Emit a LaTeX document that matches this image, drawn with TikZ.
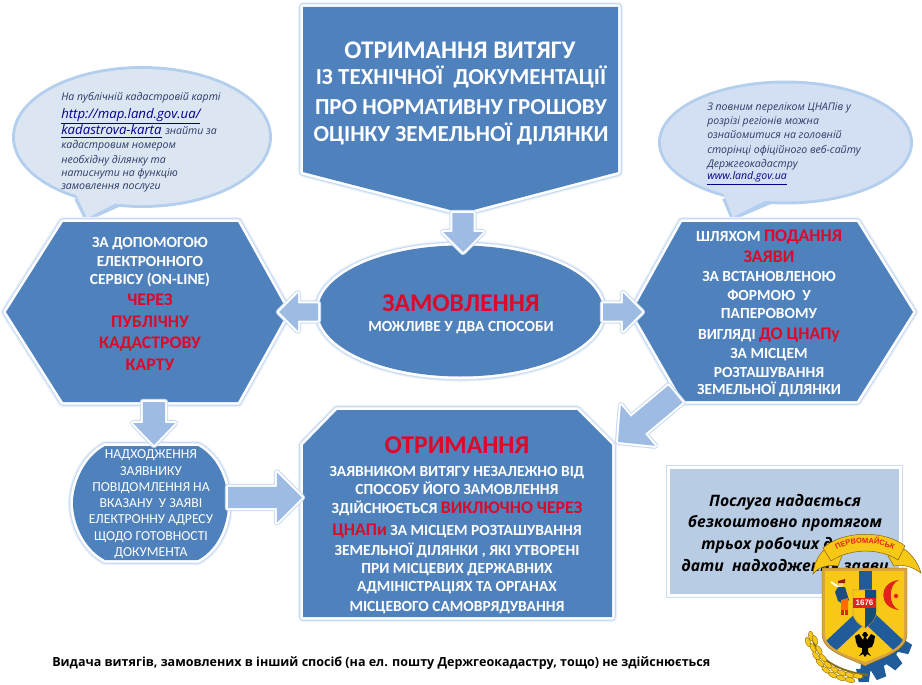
\documentclass[tikz,border=0pt]{standalone}
\usepackage{fontspec}
\setmainfont{Carlito}
\newfontfamily\tah{Open Sans}
\newfontfamily\arl{Liberation Sans}
\usetikzlibrary{calc,shapes.geometric,decorations.text}
\definecolor{mainblue}{HTML}{4F81BD}
\definecolor{glowa}{HTML}{EAF1FA}
\definecolor{glowb}{HTML}{C9DCF3}
\definecolor{arrowfill}{HTML}{9DBBE3}
\definecolor{bubfill}{HTML}{DCE6F2}
\definecolor{bubfillb}{HTML}{D3E0F3}
\definecolor{bubedge}{HTML}{B4CFEE}
\definecolor{svcfill}{HTML}{B8CCE4}
\definecolor{redtxt}{HTML}{DB0A28}
\definecolor{navytxt}{HTML}{2B3A66}
\definecolor{linktxt}{HTML}{00008B}
\definecolor{goldrim}{HTML}{D9A441}
\definecolor{shieldy}{HTML}{F7C815}
\definecolor{crestblue}{HTML}{1F5C99}
\definecolor{crestred}{HTML}{E2231A}
\definecolor{darkgold}{HTML}{8A6A10}
\newcommand{\redsize}{\fontsize{13.3}{15}\selectfont}
\tikzset{
  x=.75pt,y=-.75pt,
  glowshape/.style={preaction={draw=glowa,line width=7.6pt,line join=round},
    preaction={draw=glowb,line width=5.8pt,line join=round},
    preaction={draw=white,line width=4pt,line join=round},fill=mainblue},
  blockarrow/.style={preaction={draw=glowb,line width=4.6pt,line join=round},
    preaction={draw=white,line width=3pt,line join=round},fill=arrowfill},
  bubline/.style={draw=bubedge,line width=4.4pt,line join=round},
  wt/.style={anchor=base,inner sep=0pt,text=white,font=\bfseries\fontsize{11.6}{13}\selectfont},
  rd/.style={anchor=base,inner sep=0pt,text=redtxt,font=\bfseries\redsize},
  tt/.style={anchor=base,inner sep=0pt,text=white,font=\bfseries\fontsize{17.2}{20}\selectfont},
  bg/.style={anchor=base,inner sep=0pt,text=redtxt,font=\bfseries\fontsize{19.2}{22}\selectfont},
  pl/.style={anchor=base,inner sep=0pt,text=white,font=\fontsize{10.3}{12}\selectfont},
  bb/.style={anchor=base west,inner sep=0pt,text=navytxt,font=\tah\itshape\fontsize{7.9}{9}\selectfont},
  lk/.style={anchor=base west,inner sep=0pt,text=linktxt,font=\tah\itshape\fontsize{9.9}{11}\selectfont},
  sv/.style={anchor=base,inner sep=0pt,text=black,font=\tah\bfseries\itshape\fontsize{11.8}{14}\selectfont},
  kern/.style={fill=shieldy,draw=darkgold,line width=.3pt},
}
\newcommand{\blockarr}[5]{%
  \coordinate (hb) at ($(#2)!#5!(#1)$);
  \path[blockarrow] ($(#1)!#3!90:(#2)$) -- ($(hb)!#3!90:(#2)$) -- ($(hb)!#4!90:(#2)$) -- (#2)
     -- ($(hb)!#4!-90:(#2)$) -- ($(hb)!#3!-90:(#2)$) -- ($(#1)!#3!-90:(#2)$) -- cycle;}
\begin{document}
\begin{tikzpicture}
\useasboundingbox (0,0) rectangle (922,685);
\fill[white] (0,0) rectangle (922,685);
% bubbles
\coordinate (lbub) at (142,137);
\coordinate (rbub) at (785.5,142.5);
\draw[bubline] (lbub) ellipse [x radius=95.25pt,y radius=51pt];
\draw[bubline] (77,198) -- (87,218) -- (123,202);
\fill[bubfill] (lbub) ellipse [x radius=95.25pt,y radius=51pt];
\fill[bubfill] (74,190) -- (87,218) -- (126,198) -- cycle;
\draw[bubline] (rbub) ellipse [x radius=93.4pt,y radius=44.25pt];
\draw[bubline] (725,198) -- (733,217) -- (773,200);
\fill[bubfillb] (rbub) ellipse [x radius=93.4pt,y radius=44.25pt];
\fill[bubfillb] (722,190) -- (733,217) -- (776,195) -- cycle;
% main shapes
\path[glowshape] (303,7) -- (618,7) -- (618,172) -- (462,213) -- (303,172) -- cycle;
\path[glowshape] (63,222) -- (238,222) -- (288,312) -- (238,402) -- (63,402) -- (6,312) -- cycle;
\path[glowshape] (682,222) -- (857,222) -- (913,312) -- (857,401) -- (683,401) -- (632,312) -- cycle;
\path[glowshape] (337,410) -- (577,410) -- (612,445) -- (612,617) -- (303,617) -- (303,445) -- cycle;
\path[glowshape] (105,446) -- (198,446) .. controls (220,458) and (228,485) .. (228,503)
   .. controls (228,522) and (220,548) .. (198,560) -- (105,560)
   .. controls (83,548) and (73,522) .. (73,503) .. controls (73,485) and (83,458) .. (105,446) -- cycle;
\node[glowshape,ellipse,minimum width=213.75pt,minimum height=98.25pt,inner sep=0pt] (order) at (460.5,311) {};
\node[rectangle,fill=svcfill,minimum width=171.75pt,minimum height=93.75pt,inner sep=0pt,
  preaction={draw=glowb,line width=6pt},preaction={draw=white,line width=4.4pt}] (service) at (784.5,531.5) {};
% block arrows
\coordinate (a1s) at (463,213); \coordinate (a1e) at (463,252);
\coordinate (a2s) at (318,312); \coordinate (a2e) at (279,312);
\coordinate (a3s) at (603,312); \coordinate (a3e) at (642,312);
\coordinate (a4s) at (154,402); \coordinate (a4e) at (154,445);
\coordinate (a5s) at (228,497.5); \coordinate (a5e) at (302,497.5);
\coordinate (a6s) at (675.5,394); \coordinate (a6e) at (618,442);
\blockarr{a1s}{a1e}{7.9pt}{15pt}{15pt}
\blockarr{a2s}{a2e}{6.4pt}{14.3pt}{14.3pt}
\blockarr{a3s}{a3e}{6.4pt}{14.3pt}{14.3pt}
\blockarr{a4s}{a4e}{8.3pt}{15.8pt}{16.5pt}
\blockarr{a5s}{a5e}{7.9pt}{18.8pt}{18.8pt}
\blockarr{a6s}{a6e}{8.3pt}{20pt}{19.5pt}
% title
\node[tt,font=\bfseries\fontsize{19}{22}\selectfont] (t1) at (460,59) {ОТРИМАННЯ ВИТЯГУ};
\node[tt] (t2) at (461,85) {ІЗ ТЕХНІЧНОЇ\ \ ДОКУМЕНТАЦІЇ};
\node[tt] (t3) at (461,115) {ПРО НОРМАТИВНУ ГРОШОВУ};
\node[tt] (t4) at (461,142) {ОЦІНКУ ЗЕМЕЛЬНОЇ ДІЛЯНКИ};
% ellipse text
\node[bg] (o1) at (461,311) {ЗАМОВЛЕННЯ};
\node[wt] (o2) at (461,331) {МОЖЛИВЕ У ДВА СПОСОБИ};
% left hexagon
\node[wt] (l1) at (150,247) {ЗА ДОПОМОГОЮ};
\node[wt] (l2) at (150,266) {ЕЛЕКТРОННОГО};
\node[wt] (l3) at (150,284) {СЕРВІСУ (ON-LINE)};
\node[rd] (l4) at (150,305) {ЧЕРЕЗ};
\node[rd] (l5) at (150,327) {ПУБЛІЧНУ};
\node[rd] (l6) at (150,348) {КАДАСТРОВУ};
\node[rd] (l7) at (150,370) {КАРТУ};
% right hexagon
\node[wt] (r1) at (769,241) {ШЛЯХОМ \textcolor{redtxt}{\redsize ПОДАННЯ}};
\node[rd] (r2) at (769,262) {ЗАЯВИ};
\node[wt] (r3) at (769,281) {ЗА ВСТАНОВЛЕНОЮ};
\node[wt] (r4) at (769,300) {ФОРМОЮ\ \ У};
\node[wt] (r5) at (769,318) {ПАПЕРОВОМУ};
\node[wt] (r6) at (769,339) {ВИГЛЯДІ \textcolor{redtxt}{\redsize ДО ЦНАПу}};
\node[wt] (r7) at (769,358) {ЗА МІСЦЕМ};
\node[wt] (r8) at (769,377) {РОЗТАШУВАННЯ};
\node[wt] (r9) at (769,394) {ЗЕМЕЛЬНОЇ ДІЛЯНКИ};
% bottom box
\node[bg] (b0) at (457,453) {ОТРИМАННЯ};
\node[wt] (b1) at (457,476) {ЗАЯВНИКОМ ВИТЯГУ НЕЗАЛЕЖНО ВІД};
\node[wt] (b2) at (457,494) {СПОСОБУ ЙОГО ЗАМОВЛЕННЯ};
\node[wt] (b3) at (457,513) {ЗДІЙСНЮЄТЬСЯ \textcolor{redtxt}{\redsize ВИКЛЮЧНО ЧЕРЕЗ}};
\node[wt] (b4) at (457,535) {\textcolor{redtxt}{\redsize ЦНАПи} ЗА МІСЦЕМ РОЗТАШУВАННЯ};
\node[wt] (b5) at (457,555) {ЗЕМЕЛЬНОЇ ДІЛЯНКИ , ЯКІ УТВОРЕНІ};
\node[wt] (b6) at (457,573) {ПРИ МІСЦЕВИХ ДЕРЖАВНИХ};
\node[wt] (b7) at (457,591) {АДМІНІСТРАЦІЯХ ТА ОРГАНАХ};
\node[wt] (b8) at (457,611) {МІСЦЕВОГО САМОВРЯДУВАННЯ};
% small rounded box
\node[pl] (n1) at (151,458) {НАДХОДЖЕННЯ};
\node[pl] (n2) at (151,475) {ЗАЯВНИКУ};
\node[pl] (n3) at (151,491) {ПОВІДОМЛЕННЯ НА};
\node[pl] (n4) at (151,507) {ВКАЗАНУ\ \ У ЗАЯВІ};
\node[pl] (n5) at (151,523) {ЕЛЕКТРОННУ АДРЕСУ};
\node[pl] (n6) at (151,540) {ЩОДО ГОТОВНОСТІ};
\node[pl] (n7) at (151,556) {ДОКУМЕНТА};
% left bubble text
\node[bb] (lb1) at (61,101) {На публічній кадастровій карті};
\node[lk] (lb2) at (61,118) {\underline{http://map.land.gov.ua/}};
\node[lk] (lb3) at (61,135) {\underline{kadastrova-karta}};
\node[bb] (lb3b) at (165,135) {знайти за};
\node[bb] (lb4) at (61,149) {кадастровим номером};
\node[bb] (lb5) at (61,163) {необхідну ділянку та};
\node[bb] (lb6) at (61,176) {натиснути на функцію};
\node[bb] (lb7) at (61,190) {замовлення послуги};
% right bubble text
\node[bb] (rb1) at (707,111) {З повним переліком ЦНАПів у};
\node[bb] (rb2) at (707,125) {розрізі регіонів можна};
\node[bb] (rb3) at (707,139) {ознайомитися на головній};
\node[bb] (rb4) at (707,153) {сторінці офіційного веб-сайту};
\node[bb] (rb5) at (707,167) {Держгеокадастру};
\node[bb,text=linktxt] (rb6) at (707,180) {\underline{www.land.gov.ua}};
% service text
\node[sv] (s1) at (785,506) {Послуга надається};
\node[sv] (s2) at (785,527) {безкоштовно протягом};
\node[sv] (s3) at (785,549) {трьох робочих днів з};
\node[sv] (s4) at (785,571) {дати\ \ надходження заяви};
% footer
\node[anchor=base west,inner sep=0pt,text=black,font=\tah\bfseries\fontsize{9.4}{11}\selectfont] (foot) at (52,666)
  {Видача витягів, замовлених в інший спосіб (на ел. пошту Держгеокадастру, тощо) не здійснюється};
% ---------- crest ----------
% gear
\coordinate (gc) at (862,630);
\begin{scope}[shift={(gc)}]
  \fill[crestblue] (0,0) -- (-8:31.5pt) arc[start angle=-8,end angle=-92,radius=31.5pt] -- cycle;
  \foreach \a in {-22,-45,-68,-88}
    \fill[crestblue,rotate=\a] (29pt,-5.5pt) -- (39pt,-3.8pt) -- (39pt,3.8pt) -- (29pt,5.5pt) -- cycle;
\end{scope}
% wheat
\draw[darkgold,line width=1.4pt] (813,640) .. controls (818,660) and (840,672) .. (868,675);
\foreach \x/\y/\r in {811/636/-80,815/640/-70,808/642/-70,813/648/-65,819/650/-60,816/656/-55,823/658/-50,
  820/663/-45,828/665/-40,826/670/-35,835/670/-30,833/675/-25,842/673/-22,841/678/-18,850/675/-15,850/680/-10,858/676/-8}
  \draw[kern,shift={(\x,\y)},rotate=\r] (0,0) ellipse [x radius=3.8pt,y radius=1.8pt];
% ribbon tails and band
\path[fill=shieldy,draw=darkgold,line width=.4pt] (828,547) .. controls (820,552) and (814,562) .. (813,574)
   .. controls (818,568) and (826,564) .. (838,566) -- (842,556) -- cycle;
\path[fill=shieldy,draw=darkgold,line width=.4pt] (901,547) .. controls (910,552) and (918,562) .. (921,573)
   .. controls (914,568) and (906,564) .. (894,566) -- (888,556) -- cycle;
\path[fill=shieldy,draw=darkgold,line width=.4pt] (823,548) .. controls (843,530) and (885,530) .. (905,546)
   -- (898,560) .. controls (880,548) and (850,548) .. (831,561) -- cycle;
\path[decorate,decoration={text along path,text align=center,
   text={|\arl\bfseries\fontsize{5.6}{6}\selectfont\color{crestred}|ПЕРВОМАЙСЬК}}]
   (832,553) .. controls (850,540) and (880,540) .. (898,553);
% shield
\path[fill=goldrim,draw=darkgold,line width=.3pt] (822,568) -- (907,568) -- (907,634)
   .. controls (907,652) and (880,658) .. (865,666) .. controls (850,658) and (822,652) .. (822,634) -- cycle;
\begin{scope}
  \clip (825,571) -- (904,571) -- (904,634) .. controls (904,650) and (878,656) .. (865,662)
     .. controls (852,656) and (825,650) .. (825,634) -- cycle;
  \fill[shieldy] (820,565) rectangle (910,670);
  \fill[crestblue] (859,565) rectangle (872,600);
  \draw[crestblue,line width=10.5pt] (866,613) -- (816,660);
  \draw[crestblue,line width=10.5pt] (864,613) -- (914,660);
\end{scope}
% inner shield
\path[fill=shieldy,draw=goldrim,line width=.6pt] (853,590) -- (876,590) -- (876,612)
  .. controls (876,620) and (870,624) .. (865,628) .. controls (859,624) and (853,620) .. (853,612) -- cycle;
\path[fill=crestblue!80!black] (865,590) -- (876,590) -- (876,612) .. controls (876,620) and (870,624) .. (865,628) -- cycle;
\fill[crestred] (853,598) rectangle (876,608);
\node[inner sep=0pt,text=white,font=\arl\bfseries\fontsize{6}{7}\selectfont] (year) at (864.5,603) {1676};
% crescent and star
\fill[crestred] (899,580) .. controls (878,582) and (878,608) .. (899,610) .. controls (888,606) and (888,584) .. (899,580) -- cycle;
\node[star,star points=5,fill=crestred,inner sep=0pt,minimum size=4pt] (cstar) at (896,596) {};
% cossack
\draw[white,line width=1.4pt] (831,582) -- (846,592);
\fill[crestblue!85!black] (838,587) -- (845,587) -- (849,600) -- (843,604) -- (838,601) -- (835,592) -- cycle;
\fill[orange!85!red] (841,600) -- (848,598) -- (848,610) -- (841,610) -- cycle;
\fill[crestred] (841,610) rectangle (844,615);
\fill[crestred] (845,610) rectangle (848,615);
\fill[orange!40!white] (841,584.5) circle [radius=1.8pt];
\fill[crestred!70!black] (838,581) -- (845,579) -- (845,583) -- (838,583) -- cycle;
% eagle
\fill[black] (866,632) -- (868,635) -- (866,637) -- (867,640) -- (871,634) -- (875,636) -- (874,642) -- (872,647)
  -- (868,648) -- (868,652) -- (871,656) -- (867,654) -- (865,657) -- (863,654) -- (859,656) -- (862,652)
  -- (862,648) -- (858,647) -- (856,642) -- (855,636) -- (859,634) -- (863,640) -- (864,637) -- (862,635) -- (864,632) -- cycle;
\end{tikzpicture}
\end{document}
